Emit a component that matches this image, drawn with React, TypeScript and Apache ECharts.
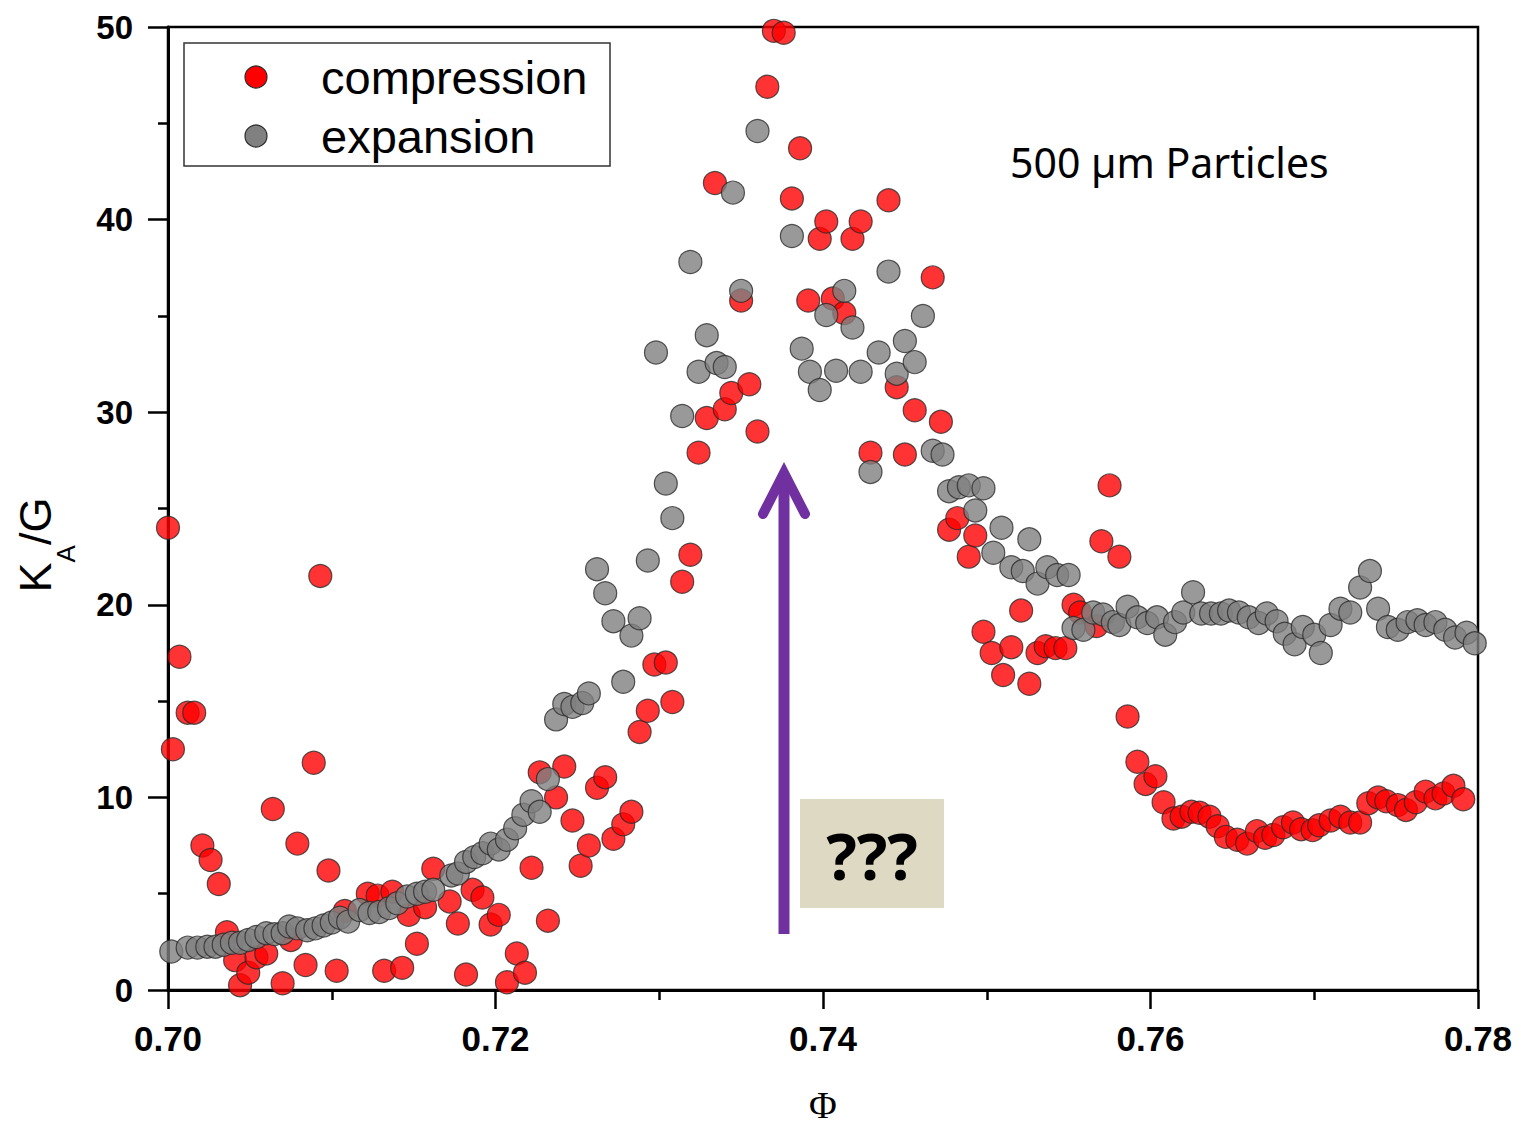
import React, { useEffect, useRef } from "react";
import * as echarts from "echarts";

const compressionPhi = [
  0.7000, 0.7003, 0.7007, 0.7012, 0.7016, 0.7021, 0.7026, 0.7031, 0.7036, 0.7041,
  0.7044, 0.7049, 0.7054, 0.7060, 0.7064, 0.7070, 0.7075, 0.7079, 0.7084, 0.7089,
  0.7093, 0.7098, 0.7103, 0.7108, 0.7122, 0.7128, 0.7132, 0.7137, 0.7143, 0.7147,
  0.7152, 0.7157, 0.7162, 0.7172, 0.7177, 0.7182, 0.7186, 0.7192, 0.7197, 0.7202,
  0.7207, 0.7213, 0.7218, 0.7222, 0.7227, 0.7232, 0.7237, 0.7242, 0.7247, 0.7252,
  0.7257, 0.7262, 0.7267, 0.7272, 0.7278, 0.7283, 0.7288, 0.7293, 0.7297, 0.7304,
  0.7308, 0.7314, 0.7319, 0.7324, 0.7329, 0.7334, 0.7340, 0.7344, 0.7350, 0.7355,
  0.7360, 0.7366, 0.7370, 0.7376, 0.7381, 0.7386, 0.7391, 0.7398, 0.7402, 0.7406,
  0.7413, 0.7418, 0.7423, 0.7429, 0.7440, 0.7445, 0.7450, 0.7456, 0.7467, 0.7472,
  0.7477, 0.7482, 0.7489, 0.7493, 0.7498, 0.7503, 0.7510, 0.7515, 0.7521, 0.7526,
  0.7531, 0.7536, 0.7542, 0.7548, 0.7553, 0.7557, 0.7567, 0.7570, 0.7575, 0.7581,
  0.7586, 0.7592, 0.7597, 0.7603, 0.7608, 0.7614, 0.7619, 0.7625, 0.7630, 0.7636,
  0.7641, 0.7646, 0.7653, 0.7659, 0.7665, 0.7670, 0.7675, 0.7681, 0.7687, 0.7692,
  0.7699, 0.7703, 0.7710, 0.7716, 0.7722, 0.7728, 0.7733, 0.7739, 0.7744, 0.7751,
  0.7756, 0.7762, 0.7768, 0.7774, 0.7779, 0.7785, 0.7791,
];
const compressionK = [
  24.0, 12.5, 17.3, 14.4, 14.4, 7.5, 6.75, 5.5, 3.0, 1.55,
  0.25, 0.9, 1.7, 1.9, 9.4, 0.35, 2.6, 7.6, 1.3, 11.8,
  21.5, 6.2, 1.0, 4.1, 5.0, 4.9, 1.0, 5.1, 1.15, 3.9,
  2.4, 4.3, 6.3, 4.6, 3.45, 0.8, 5.2, 4.8, 3.4, 3.9,
  0.4, 1.9, 0.9, 6.35, 11.3, 3.6, 10.0, 11.6, 8.8, 6.45,
  7.5, 10.5, 11.05, 7.85, 8.6, 9.25, 13.4, 14.5, 16.9, 17.0,
  14.95, 21.2, 22.6, 27.9, 29.7, 41.9, 30.15, 31.0, 35.8, 31.45,
  29.0, 46.9, 49.8, 49.7, 41.1, 43.7, 35.8, 39.0, 39.9, 35.9,
  35.15, 39.0, 39.9, 27.9, 41.0, 31.3, 27.8, 30.1, 37.0, 29.5,
  23.9, 24.5, 22.5, 23.6, 18.6, 17.5, 16.35, 17.8, 19.7, 15.9,
  17.5, 17.85, 17.75, 17.75, 20.0, 19.6, 18.9, 23.3, 26.2, 22.5,
  14.2, 11.85, 10.7, 11.1, 9.75, 8.9, 9.0, 9.25, 9.2, 9.0,
  8.5, 7.95, 7.8, 7.6, 8.25, 7.9, 8.05, 8.45, 8.7, 8.35,
  8.3, 8.55, 8.8, 9.0, 8.7, 8.7, 9.7, 10.0, 9.8, 9.6,
  9.35, 9.75, 10.3, 9.95, 10.2, 10.6, 9.9,
];

const expansionPhi = [
  0.7002, 0.7012, 0.7018, 0.7024, 0.7029, 0.7034, 0.7039, 0.7044, 0.7049, 0.7054,
  0.7060, 0.7065, 0.7070, 0.7074, 0.7079, 0.7085, 0.7090, 0.7095, 0.7100, 0.7105,
  0.7110, 0.7117, 0.7123, 0.7129, 0.7135, 0.7140, 0.7146, 0.7152, 0.7157, 0.7162,
  0.7173, 0.7177, 0.7182, 0.7187, 0.7192, 0.7197, 0.7202, 0.7207, 0.7212, 0.7217,
  0.7222, 0.7227, 0.7232, 0.7237, 0.7242, 0.7247, 0.7253, 0.7257, 0.7262, 0.7267,
  0.7272, 0.7278, 0.7283, 0.7288, 0.7293, 0.7298, 0.7304, 0.7308, 0.7314, 0.7319,
  0.7324, 0.7329, 0.7335, 0.7340, 0.7345, 0.7350, 0.7360, 0.7381, 0.7387, 0.7392,
  0.7398, 0.7402, 0.7408, 0.7413, 0.7418, 0.7423, 0.7429, 0.7434, 0.7440, 0.7445,
  0.7450, 0.7456, 0.7461, 0.7467, 0.7473, 0.7477, 0.7483, 0.7489, 0.7493, 0.7498,
  0.7504, 0.7509, 0.7515, 0.7522, 0.7526, 0.7531, 0.7537, 0.7543, 0.7550, 0.7553,
  0.7559, 0.7565, 0.7571, 0.7577, 0.7581, 0.7586, 0.7592, 0.7598, 0.7604, 0.7609,
  0.7615, 0.7620, 0.7626, 0.7631, 0.7637, 0.7643, 0.7648, 0.7654, 0.7660, 0.7666,
  0.7671, 0.7677, 0.7682, 0.7688, 0.7693, 0.7700, 0.7704, 0.7710, 0.7716, 0.7722,
  0.7728, 0.7734, 0.7739, 0.7745, 0.7751, 0.7757, 0.7763, 0.7768, 0.7774, 0.7780,
  0.7786, 0.7793, 0.7798,
];
const expansionK = [
  2.0, 2.2, 2.2, 2.25, 2.25, 2.35, 2.45, 2.45, 2.6, 2.75,
  2.95, 2.9, 2.95, 3.3, 3.2, 3.1, 3.2, 3.35, 3.5, 3.75,
  3.55, 4.15, 4.0, 4.05, 4.25, 4.5, 4.85, 5.0, 5.1, 5.2,
  5.95, 6.05, 6.65, 6.9, 7.1, 7.6, 7.3, 7.8, 8.4, 9.1,
  9.8, 9.25, 10.95, 14.05, 14.85, 14.7, 14.9, 15.4, 21.85, 20.6,
  19.15, 16.0, 18.4, 19.3, 22.3, 33.1, 26.3, 24.5, 29.8, 37.8,
  32.1, 34.0, 32.55, 32.35, 41.4, 36.3, 44.6, 39.15, 33.3, 32.1,
  31.15, 35.05, 32.15, 36.3, 34.4, 32.1, 26.9, 33.1, 37.3, 32.0,
  33.7, 32.6, 35.0, 28.0, 27.8, 25.9, 26.1, 26.2, 24.9, 26.05,
  22.7, 24.0, 21.95, 21.75, 23.4, 21.1, 21.95, 21.55, 21.55, 18.8,
  18.7, 19.6, 19.5, 19.1, 18.95, 19.9, 19.35, 19.05, 19.35, 18.45,
  19.1, 19.6, 20.65, 19.55, 19.55, 19.55, 19.7, 19.6, 19.35, 19.05,
  19.55, 19.15, 18.5, 17.95, 18.85, 18.45, 17.5, 18.95, 19.8, 19.6,
  20.9, 21.75, 19.8, 18.85, 18.7, 19.1, 19.2, 18.95, 19.1, 18.7,
  18.3, 18.55, 18.0,
];

const seriesNames = ["compression", "expansion"];
const seriesColors = ["#FF0000", "#808080"];
const annotationText = "500 µm Particles";
const questionText = "???";

const tickFont = "'Liberation Sans Narrow', 'Liberation Sans', Arial, sans-serif";
const sansFont = "'Liberation Sans', Arial, sans-serif";

export default function App() {
  const ref = useRef<HTMLDivElement>(null);

  useEffect(() => {
    if (!ref.current) return;
    const chart = echarts.init(ref.current, undefined, { renderer: "svg" });

    const zip = (xs: number[], ys: number[]) => xs.map((x, i) => [x, ys[i]]);

    const option: any = {
      animation: false,
      backgroundColor: "#ffffff",
      grid: {
        left: 168,
        right: 43,
        top: 27,
        bottom: 145,
        containLabel: false,
        outerBoundsMode: "none",
        show: true,
        borderColor: "#000",
        borderWidth: 2.5,
        backgroundColor: "transparent",
      },
      xAxis: {
        type: "value",
        min: 0.7,
        max: 0.78,
        interval: 0.02,
        name: "Φ",
        nameLocation: "middle",
        nameGap: 96,
        nameTextStyle: {
          fontFamily: "'Liberation Serif', 'DejaVu Serif', serif",
          fontSize: 38,
          color: "#000",
        },
        axisLine: { onZero: false, lineStyle: { color: "#000", width: 3 } },
        axisTick: { show: true, inside: false, length: 19, lineStyle: { color: "#000", width: 2.5 } },
        minorTick: { show: true, splitNumber: 2, length: 10, lineStyle: { color: "#000", width: 2.5 } },
        splitLine: { show: false },
        minorSplitLine: { show: false },
        axisLabel: {
          margin: 31,
          color: "#000",
          fontFamily: tickFont,
          fontWeight: "bold",
          fontSize: 35,
          formatter: (v: number) => v.toFixed(2),
        },
      },
      yAxis: {
        type: "value",
        min: 0,
        max: 50,
        interval: 10,
        name: "{n|K}{s|A}{n|/G}",
        nameLocation: "middle",
        nameGap: 89,
        nameRotate: 90,
        nameTextStyle: {
          padding: [0, 73, 0, 0],
          rich: {
            n: { fontFamily: sansFont, fontSize: 45, color: "#000", lineHeight: 88, verticalAlign: "middle" },
            s: { fontFamily: sansFont, fontSize: 26, color: "#000", lineHeight: 26, verticalAlign: "bottom" },
          },
        },
        axisLine: { onZero: false, lineStyle: { color: "#000", width: 3 } },
        axisTick: { show: true, inside: false, length: 20, lineStyle: { color: "#000", width: 2.5 } },
        minorTick: { show: true, splitNumber: 2, length: 10, lineStyle: { color: "#000", width: 2.5 } },
        splitLine: { show: false },
        minorSplitLine: { show: false },
        axisLabel: {
          margin: 35,
          color: "#000",
          fontFamily: tickFont,
          fontWeight: "bold",
          fontSize: 33,
        },
      },
      series: [
        {
          name: seriesNames[0],
          type: "scatter",
          symbol: "circle",
          symbolSize: 23,
          clip: false,
          itemStyle: { color: seriesColors[0], borderColor: "#2a2a2a", borderWidth: 1.2 },
          data: zip(compressionPhi, compressionK),
          z: 2,
        },
        {
          name: seriesNames[1],
          type: "scatter",
          symbol: "circle",
          symbolSize: 23,
          clip: false,
          itemStyle: { color: seriesColors[1], borderColor: "#2a2a2a", borderWidth: 1.2 },
          data: zip(expansionPhi, expansionK),
          z: 3,
        },
      ],
      graphic: [
        {
          type: "rect",
          shape: { x: 184, y: 43, width: 426, height: 123 },
          style: { fill: "#fff", stroke: "#333", lineWidth: 1.5 },
          z: 10,
        },
        {
          type: "circle",
          shape: { cx: 256, cy: 77, r: 11 },
          style: { fill: seriesColors[0], stroke: "#2a2a2a", lineWidth: 1.2 },
          z: 11,
        },
        {
          type: "circle",
          shape: { cx: 256, cy: 136, r: 11 },
          style: { fill: seriesColors[1], stroke: "#2a2a2a", lineWidth: 1.2 },
          z: 11,
        },
        {
          type: "text",
          x: 321,
          y: 77,
          style: {
            text: seriesNames[0],
            fontFamily: sansFont,
            fontSize: 47,
            fill: "#000",
            verticalAlign: "middle",
            align: "left",
          },
          z: 11,
        },
        {
          type: "text",
          x: 321,
          y: 136,
          style: {
            text: seriesNames[1],
            fontFamily: sansFont,
            fontSize: 47,
            fill: "#000",
            verticalAlign: "middle",
            align: "left",
          },
          z: 11,
        },
        {
          type: "text",
          x: 1010,
          y: 162,
          style: {
            text: annotationText,
            fontFamily: "'Noto Sans', 'Open Sans', sans-serif",
            fontSize: 41,
            fill: "#000",
            verticalAlign: "middle",
            align: "left",
          },
          z: 11,
        },
        {
          type: "line",
          shape: { x1: 784, y1: 934, x2: 784, y2: 480 },
          style: { stroke: "#7030A0", lineWidth: 11 },
          z: 12,
        },
        {
          type: "polyline",
          shape: { points: [[763, 514], [784, 473], [805, 514]] },
          style: { stroke: "#7030A0", lineWidth: 10, lineCap: "round", lineJoin: "miter", fill: "none" },
          z: 12,
        },
        {
          type: "rect",
          shape: { x: 800, y: 799, width: 144, height: 109 },
          style: { fill: "#DDD9C3" },
          z: 12,
        },
        {
          type: "text",
          x: 872,
          y: 855,
          style: {
            text: questionText,
            fontFamily: "'Noto Sans', 'Open Sans', sans-serif",
            fontWeight: "bold",
            fontSize: 64,
            fill: "#000",
            verticalAlign: "middle",
            align: "center",
          },
          z: 13,
        },
      ],
    };

    chart.setOption(option);
    return () => chart.dispose();
  }, []);

  return (
    <div
      ref={ref}
      style={{ position: "absolute", left: 0, top: 0, width: 1521, height: 1135 }}
    />
  );
}
